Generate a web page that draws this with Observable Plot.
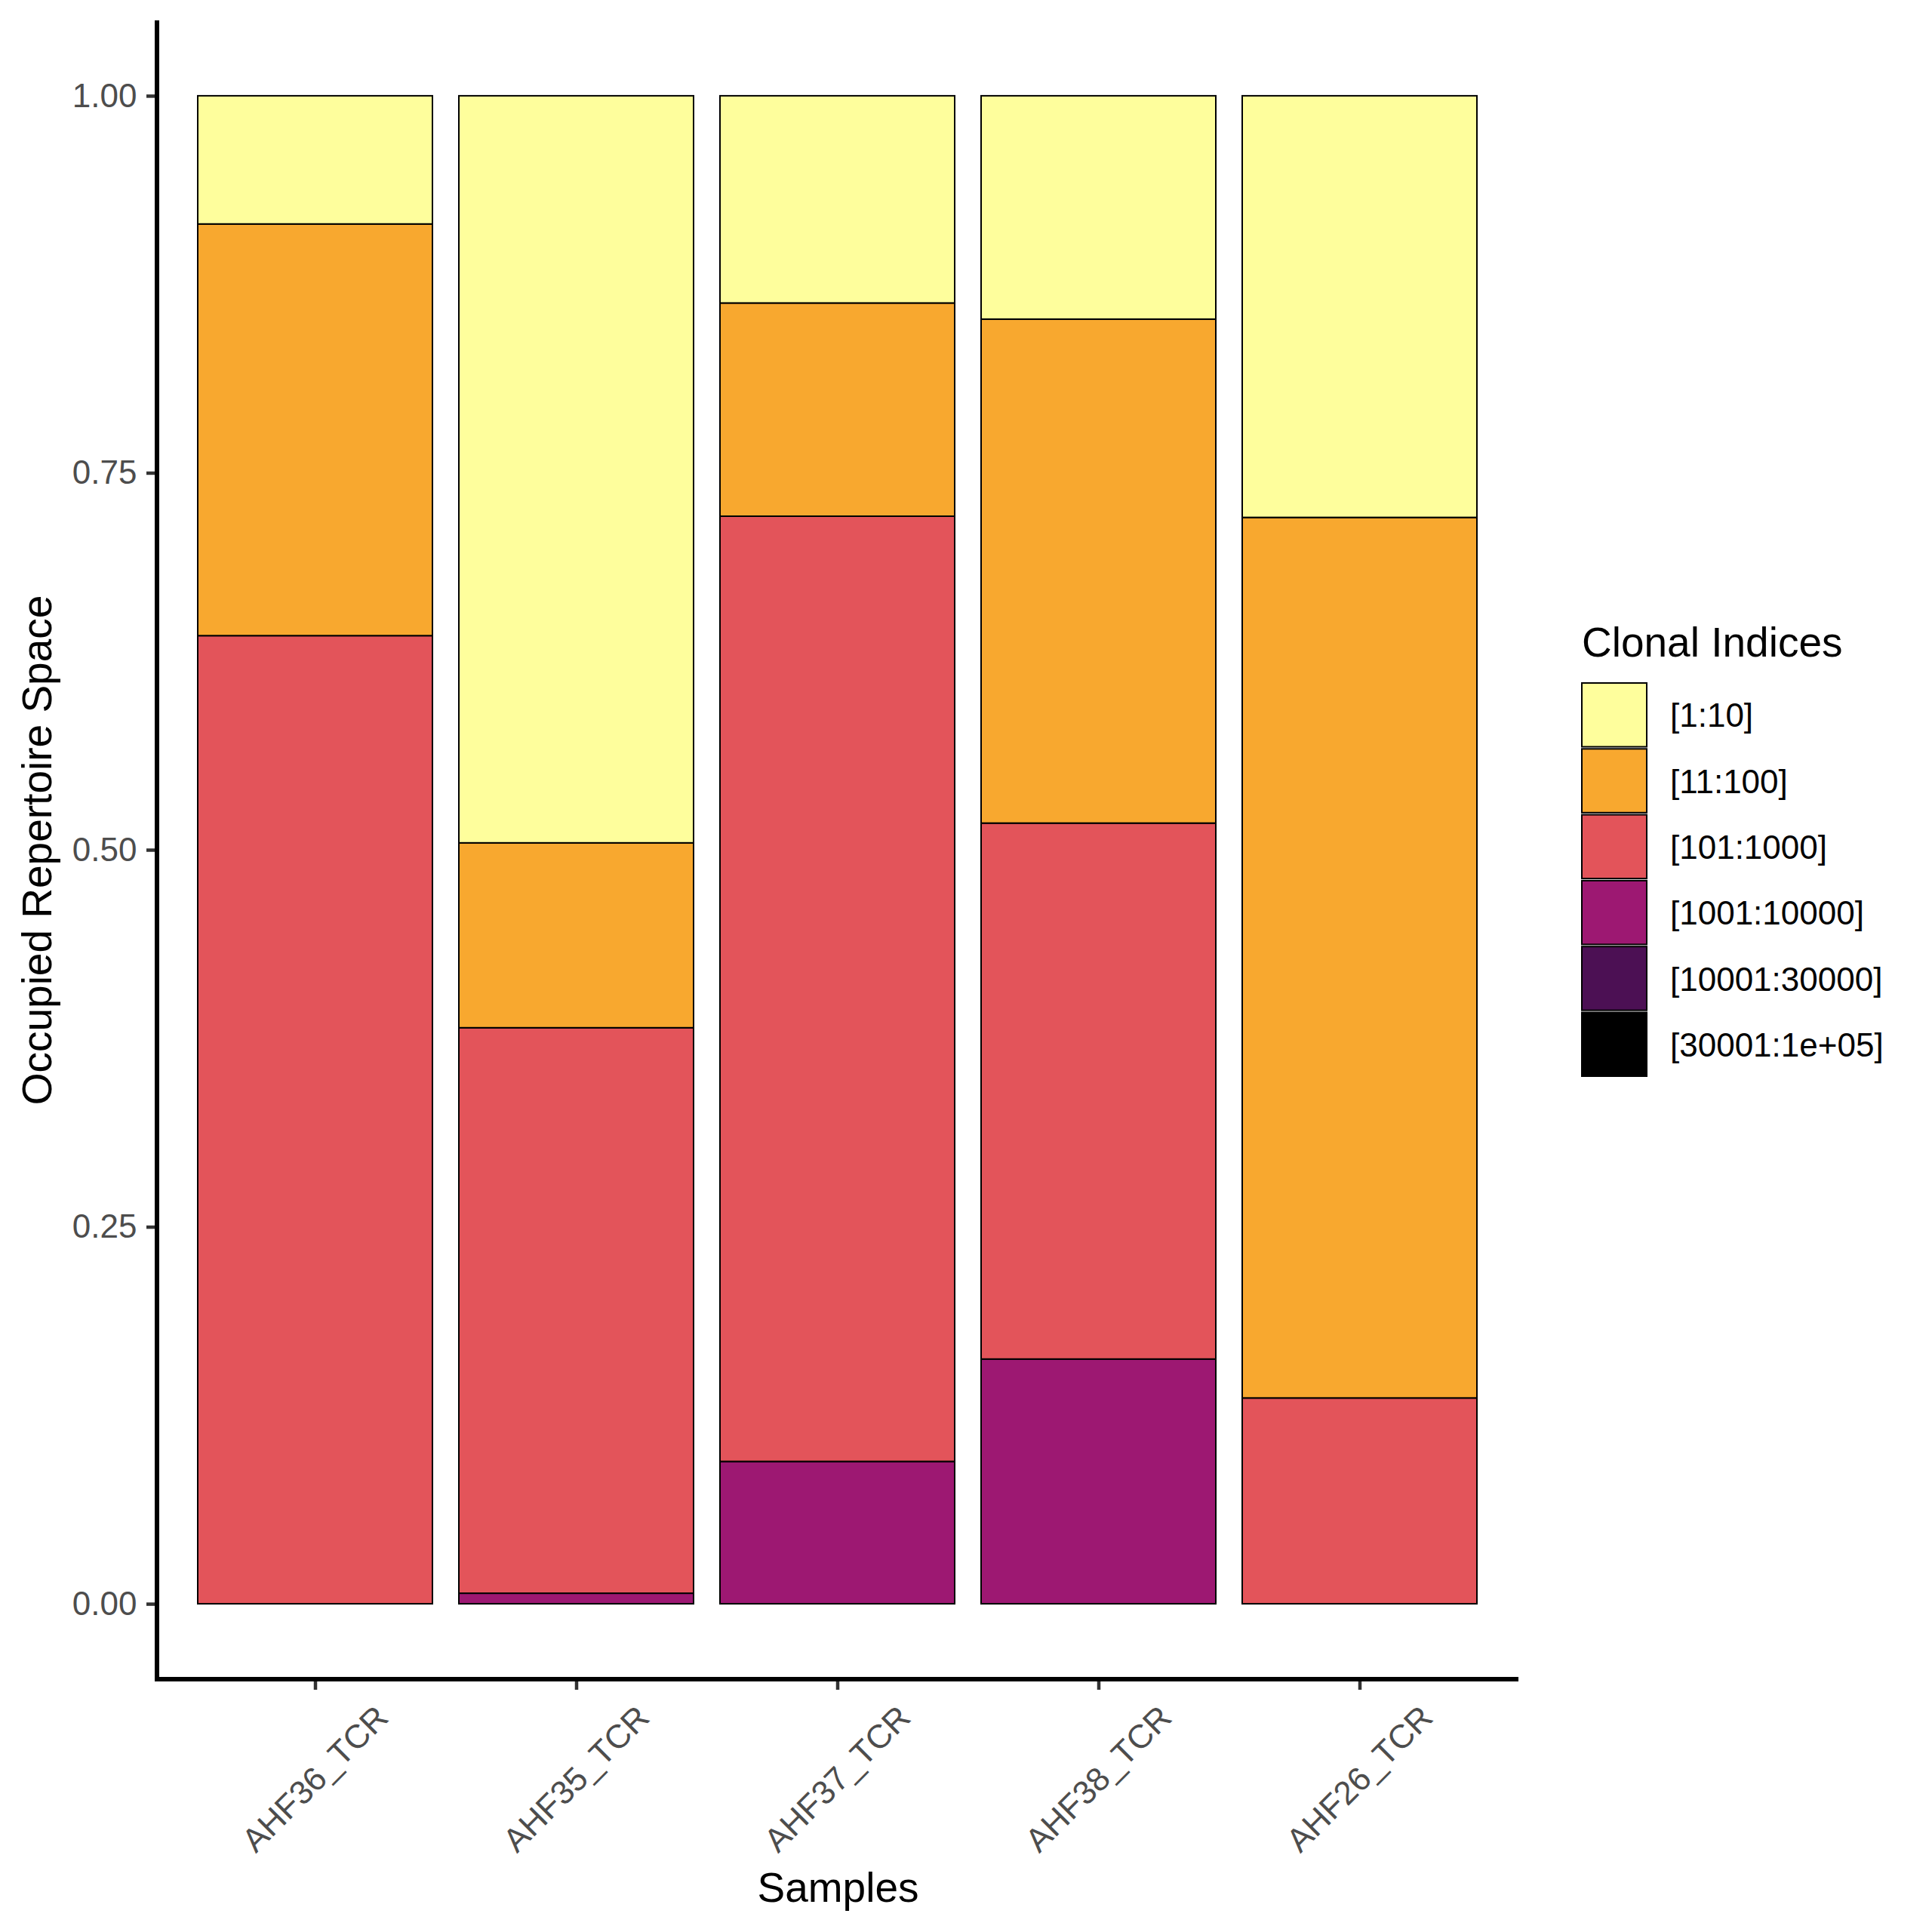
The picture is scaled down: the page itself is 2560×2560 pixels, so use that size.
<!DOCTYPE html>
<html>
<head>
<meta charset="utf-8">
<script src="https://cdn.jsdelivr.net/npm/d3@7"></script>
<script src="https://cdn.jsdelivr.net/npm/@observablehq/plot@0.6"></script>
<style>
  html, body { margin: 0; padding: 0; background: white; }
  #chart svg { display: block; }
</style>
</head>
<body>
<div id="chart"></div>
<script>
// ---- data ----
const samples = ["AHF36_TCR", "AHF35_TCR", "AHF37_TCR", "AHF38_TCR", "AHF26_TCR"];
const groups = ["[1:10]", "[11:100]", "[101:1000]", "[1001:10000]", "[10001:30000]", "[30001:1e+05]"];
const groupColors = ["#FEFE9C", "#F8A82F", "#E3545A", "#9D1872", "#4C1054", "#000000"];
const g1to10 = [0.085, 0.4954, 0.1374, 0.1481, 0.2796];
const g11to100 = [0.273, 0.1226, 0.1414, 0.3342, 0.5839];
const g101to1000 = [0.642, 0.375, 0.6268, 0.3554, 0.1365];
const g1001to10000 = [0, 0.007, 0.0944, 0.1623, 0];
const g10001to30000 = [0, 0, 0, 0, 0];
const g30001to1e5 = [0, 0, 0, 0, 0];
const yTicks = [0, 0.25, 0.5, 0.75, 1];

// build table, stacked bottom -> top
const seriesBottomUp = [
  [groups[5], g30001to1e5],
  [groups[4], g10001to30000],
  [groups[3], g1001to10000],
  [groups[2], g101to1000],
  [groups[1], g11to100],
  [groups[0], g1to10]
];
const rows = [];
samples.forEach((s, i) => {
  seriesBottomUp.forEach(([g, vals]) => {
    if (vals[i] > 0) rows.push({sample: s, group: g, value: vals[i]});
  });
});

const W = 2560, H = 2560;
const mL = 208, mR = 548, mT = 27, mB = 335;

function axisLines(index, scales, values, dims) {
  const {width, height, marginLeft, marginRight, marginTop, marginBottom} = dims;
  const g = d3.create("svg:g");
  g.append("path")
    .attr("d", `M${marginLeft},${marginTop}V${height - marginBottom}H${width - marginRight}`)
    .attr("fill", "none").attr("stroke", "black").attr("stroke-width", 6)
    .attr("stroke-linejoin", "miter");
  return g.node();
}

function legend(index, scales, values, dims) {
  const g = d3.create("svg:g").attr("text-anchor", "start");
  const lx = 2096, top = 905, key = 86, pitch = 87.3;
  g.append("text").attr("x", lx).attr("y", 870).attr("text-anchor", "start")
    .attr("font-size", 55).attr("fill", "black").text("Clonal Indices");
  groups.forEach((grp, i) => {
    const y = top + i * pitch;
    g.append("rect").attr("x", lx).attr("y", y).attr("width", key).attr("height", key - 1.5)
      .attr("fill", scales.color(grp)).attr("stroke", "black").attr("stroke-width", 2);
    g.append("text").attr("x", 2213).attr("y", y + key / 2).attr("text-anchor", "start")
      .attr("dy", "0.35em").attr("font-size", 44).attr("fill", "black").text(grp);
  });
  return g.node();
}

const chart = Plot.plot({
  width: W,
  height: H,
  marginLeft: mL,
  marginRight: mR,
  marginTop: mT,
  marginBottom: mB,
  style: {fontFamily: "'Liberation Sans', Arial, Helvetica, sans-serif", background: "white"},
  x: {domain: samples, paddingInner: 0.1, paddingOuter: 0.15, label: null},
  y: {domain: [-0.05, 1.05], label: null},
  color: {domain: groups, range: groupColors},
  marks: [
    Plot.barY(rows, {
      x: "sample", y: "value", fill: "group",
      stroke: "black", strokeWidth: 2, inset: 0
    }),
    Plot.axisY({
      ticks: yTicks, tickFormat: d3.format(".2f"), tickSize: 14, tickPadding: 13,
      fontSize: 44, fill: "#4D4D4D", stroke: "#333333", strokeWidth: 4.5, label: null
    }),
    Plot.axisX({
      tickSize: 14, tickPadding: 118, tickRotate: -45, textAnchor: "middle", lineAnchor: "middle",
      fontSize: 44, fill: "#4D4D4D", stroke: "#333333", strokeWidth: 4.5, label: null
    }),
    axisLines,
    Plot.text(["Samples"], {
      text: d => d, frameAnchor: "bottom", dy: 277, lineAnchor: "middle", textAnchor: "middle",
      fontSize: 55, fill: "black"
    }),
    Plot.text(["Occupied Repertoire Space"], {
      text: d => d, frameAnchor: "left", dx: -158, rotate: -90, lineAnchor: "middle", textAnchor: "middle",
      fontSize: 55, fill: "black"
    }),
    legend
  ]
});

document.getElementById("chart").appendChild(chart);
</script>
</body>
</html>
